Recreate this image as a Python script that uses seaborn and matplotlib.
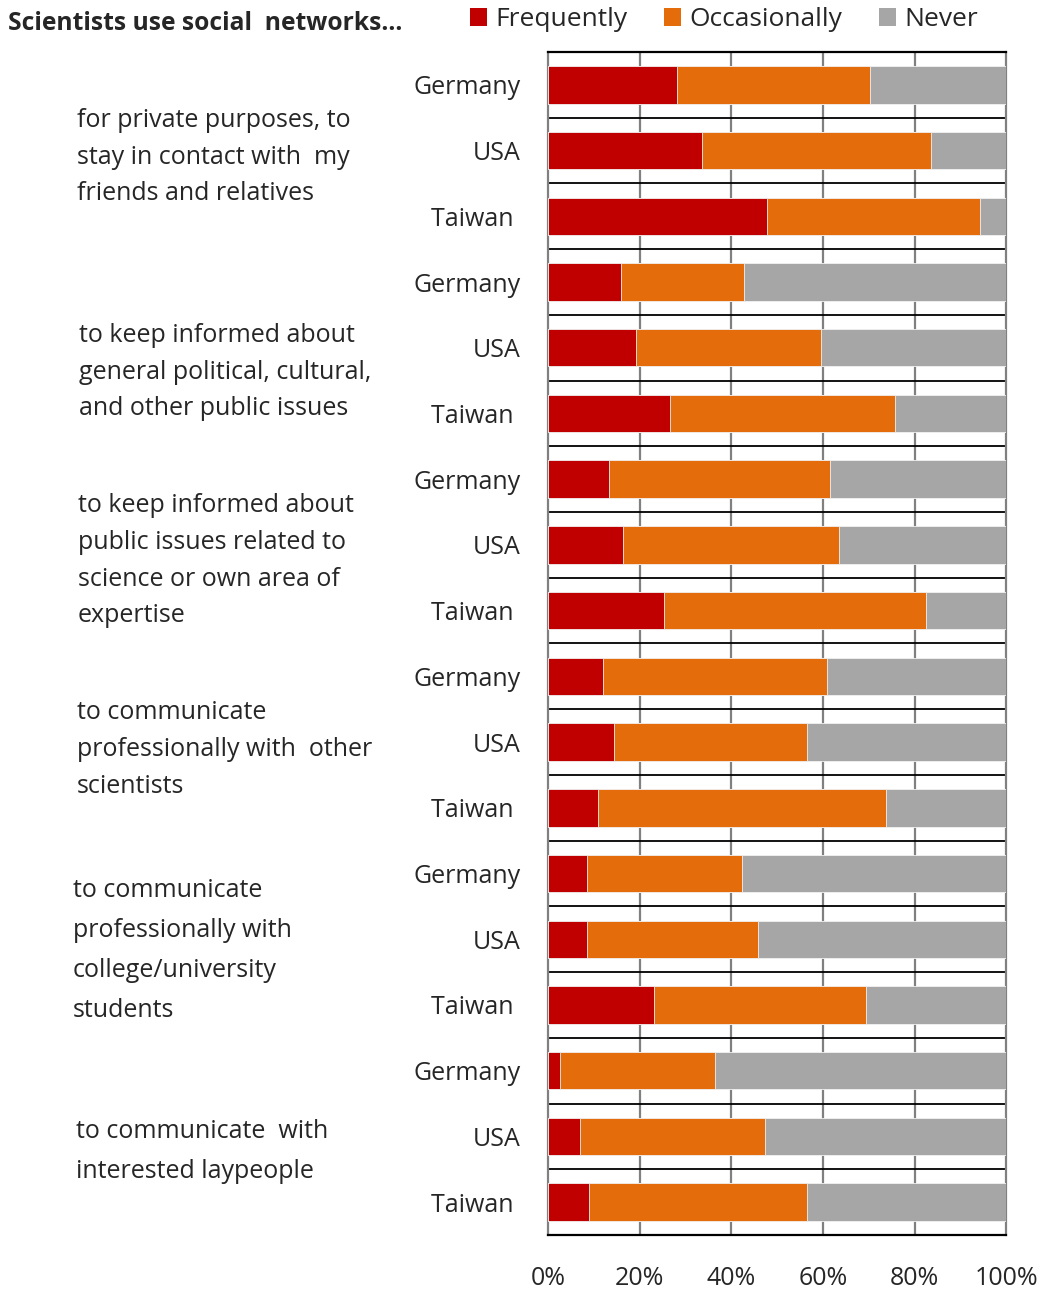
import matplotlib
matplotlib.use("Agg")
import matplotlib.pyplot as plt
import matplotlib.transforms as mtransforms
from matplotlib.patches import Patch
import pandas as pd
import seaborn as sns

# Survey purposes (one group of three countries each)
purposes = [
    "for private purposes, to\nstay in contact with  my\nfriends and relatives",
    "to keep informed about\ngeneral political, cultural,\nand other public issues",
    "to keep informed about\npublic issues related to\nscience or own area of\nexpertise",
    "to communicate\nprofessionally with  other\nscientists",
    "to communicate\nprofessionally with\ncollege/university\nstudents",
    "to communicate  with\ninterested laypeople",
]
countries = ["Germany", "USA", "Taiwan"]

# Shares in percent, rows ordered purpose by purpose, Germany/USA/Taiwan
frequently = [28.1, 33.5, 47.8, 15.9, 19.3, 26.6, 13.4, 16.4, 25.2,
              12.0, 14.4, 10.9, 8.6, 8.6, 23.2, 2.6, 7.0, 8.9]
occasionally = [42.1, 50.0, 46.5, 26.8, 40.2, 49.1, 48.1, 47.1, 57.2,
                48.9, 42.1, 62.8, 33.7, 37.2, 46.1, 33.8, 40.3, 47.6]
never = [29.8, 16.5, 5.7, 57.3, 40.5, 24.3, 38.5, 36.5, 17.6,
         39.1, 43.5, 26.3, 57.7, 54.2, 30.7, 63.6, 52.7, 43.5]

series_names = ["Frequently", "Occasionally", "Never"]
colors = {"Frequently": "#C00000", "Occasionally": "#E46C0A", "Never": "#A6A6A6"}

rows = [f"{p}|{c}" for p in range(len(purposes)) for c in countries]
df = pd.DataFrame({
    "row": rows,
    "country": [c for _ in purposes for c in countries],
    "Frequently": frequently,
    "Occasionally": occasionally,
    "Never": never,
})
df["end_freq"] = df["Frequently"]
df["end_occ"] = df["Frequently"] + df["Occasionally"]
df["end_never"] = df["end_occ"] + df["Never"]

sns.set_style("white")
plt.rcParams["font.family"] = ["Open Sans", "DejaVu Sans"]

W, H = 1049, 1289
fig = plt.figure(figsize=(W / 100, H / 100), dpi=100)
ax = fig.add_axes([548 / W, 1 - 1235 / H, (1006.5 - 548) / W, (1235 - 52) / H])

bar_w = 0.57
for col, name in [("end_never", "Never"), ("end_occ", "Occasionally"), ("end_freq", "Frequently")]:
    sns.barplot(data=df, y="row", x=col, order=rows, orient="h", color=colors[name],
                saturation=1, width=bar_w, errorbar=None, edgecolor="#f2f2f2",
                linewidth=0.6, ax=ax, zorder=3)

ax.set_xlim(0, 100)
ax.set_ylim(len(rows) - 0.5, -0.5)
ax.set_xlabel("")
ax.set_ylabel("")

# vertical gridlines and row separators
ax.set_xticks([0, 20, 40, 60, 80, 100])
ax.set_xticklabels(["0%", "20%", "40%", "60%", "80%", "100%"])
for xv in [20, 40, 60, 80]:
    ax.axvline(xv, color="#808080", lw=1.6, zorder=1)
for i in range(1, len(rows)):
    ax.axhline(i - 0.5, color="black", lw=1.3, zorder=2)

for side in ["left", "right"]:
    ax.spines[side].set_color("#808080")
    ax.spines[side].set_linewidth(1.6)
for side in ["top", "bottom"]:
    ax.spines[side].set_color("black")
    ax.spines[side].set_linewidth(1.6)

ax.set_yticks(range(len(rows)))
ax.set_yticklabels([c if c != "Taiwan" else "Taiwan " for c in df["country"]])
ax.tick_params(axis="y", length=0, pad=20, labelsize=18)
ax.tick_params(axis="x", length=0, pad=22, labelsize=18)

# purpose descriptions on the left
trans = mtransforms.blended_transform_factory(fig.transFigure, ax.transData)
label_x = [77, 79, 78, 77, 73, 76]
label_dy = [0.10, 0.37, 0.24, 0.11, 0.17, 0.23]
line_sp = [1.62, 1.62, 1.62, 1.62, 1.8, 1.76]
for g, text in enumerate(purposes):
    ax.text(label_x[g] / W, 3 * g + 1 + label_dy[g], text, transform=trans,
            ha="left", va="center", fontsize=18, linespacing=line_sp[g],
            clip_on=False)

fig.text(8 / W, 1 - 24 / H, "Scientists use social  networks...", ha="left", va="center",
         fontsize=17.7, fontweight="bold")

handles = [Patch(facecolor=colors[n], edgecolor="none", label=n) for n in series_names]
fig.legend(handles=handles, loc="center left", bbox_to_anchor=(470 / W, 1 - 20 / H),
           ncol=3, frameon=False, handlelength=0.65, handleheight=0.65,
           handletextpad=0.3, columnspacing=1.4, borderaxespad=0, borderpad=0,
           prop={"size": 19})

fig.savefig("out.png", dpi=100)
